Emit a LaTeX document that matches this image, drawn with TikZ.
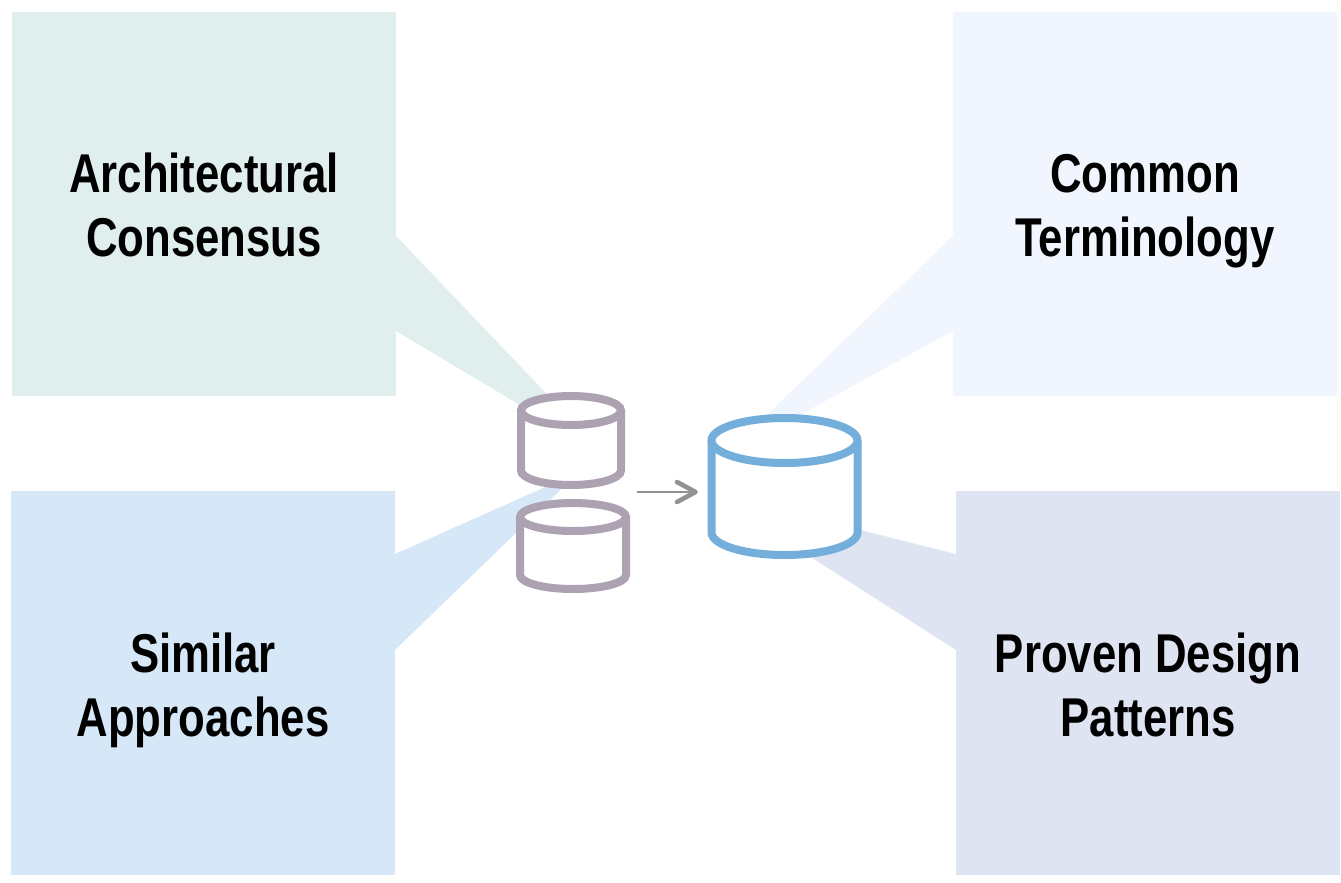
\documentclass[tikz,border=0pt]{standalone}
\usepackage{fontspec}
\setmainfont{Liberation Sans}[FakeStretch=0.8]
\definecolor{archfill}{HTML}{E1EEEE}
\definecolor{termfill}{HTML}{F0F5FE}
\definecolor{simfill}{HTML}{D6E8F8}
\definecolor{patfill}{HTML}{DFE4F2}
\definecolor{smalldb}{HTML}{ACA2B1}
\definecolor{bigdb}{HTML}{74AEDB}
\definecolor{flowgray}{HTML}{939393}
\newcommand{\topstrut}{\rule{0pt}{42pt}}
\newcommand{\botstrut}{\rule[-10pt]{0pt}{10pt}}
% centre x, y of top cap, y of bottom cap, x radius, y radius, colour
\newcommand{\dbcan}[6]{
  \draw [draw=#6, line width=6pt, fill=white] (#1-#4,#2) -- (#1-#4,#3)
    arc [start angle=180, end angle=0, x radius=#4, y radius=#5] -- (#1+#4,#2);
  \draw [draw=#6, line width=6pt, fill=white] (#1,#2) ellipse [x radius=#4, y radius=#5];
}
\tikzset{
  topic/.style={minimum size=288pt, inner sep=0pt, align=center, font=\fontsize{41}{48}\selectfont\bfseries,
    execute at end node=\botstrut},
}
\begin{document}
\begin{tikzpicture}
[x=0.75pt, y=-0.75pt]
\useasboundingbox (0,0) rectangle (1341,882);
% call-outs first, they run in behind the cylinders
\fill [archfill] (396,236) -- (607,457) -- (396,331) -- cycle;
\fill [termfill] (953,236) -- (723,457) -- (953,331) -- cycle;
\fill [simfill] (395,554) -- (579,472) -- (395,650) -- cycle;
\fill [patfill] (956,554) -- (709,492) -- (956,650) -- cycle;
\node (arch) [topic, fill=archfill] at (204,203.5) {\topstrut Architectural\\Consensus};
\node (term) [topic, fill=termfill] at (1145,203.5) {\topstrut Common\\Terminology};
\node (sim) [topic, fill=simfill] at (203,683) {\topstrut Similar\\Approaches};
\node (pat) [topic, fill=patfill] at (1148,683) {\topstrut Proven Design\\Patterns};
\dbcan{571}{410.5}{470.5}{50}{14.5}{smalldb}
\dbcan{573}{517}{575}{53}{14}{smalldb}
\dbcan{784.5}{440.5}{532.5}{73}{22.5}{bigdb}
\coordinate (flowstart) at (637,492);
\coordinate (flowend) at (695.5,492);
\coordinate (wingup) at (677,482);
\coordinate (wingdown) at (677,502);
\draw [flowgray, line width=2pt] (flowstart) -- (flowend);
\draw [flowgray, line width=3.5pt, line cap=round, line join=round] (wingup) -- (flowend) -- (wingdown);
\end{tikzpicture}
\end{document}
